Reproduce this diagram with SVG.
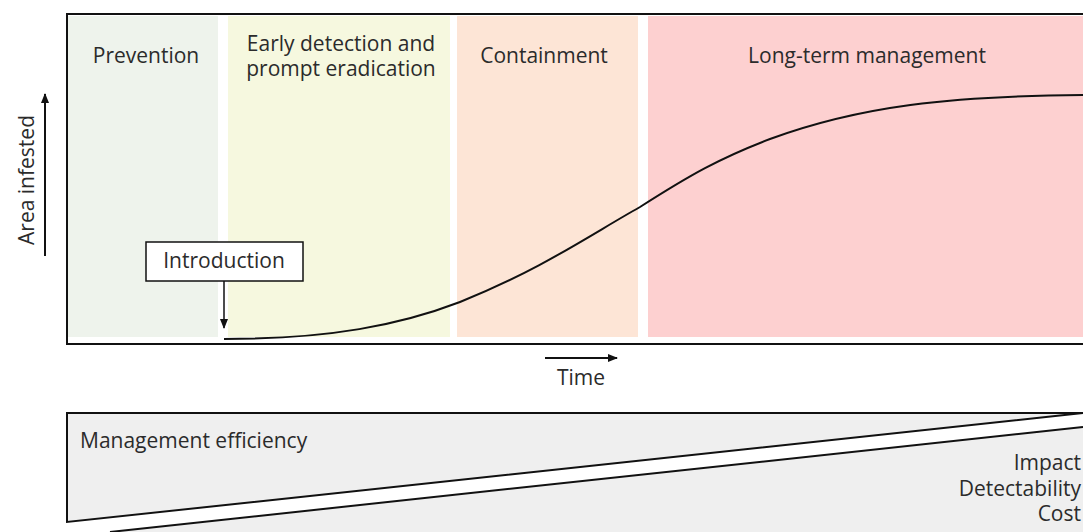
<svg xmlns="http://www.w3.org/2000/svg" width="1083" height="532" viewBox="0 0 1083 532">
<style>
text{font-family:"Open Sans","Noto Sans","Liberation Sans",sans-serif;font-size:21px;fill:#2b2b2b}
.c{text-anchor:middle}
.r{text-anchor:end}
.ln{fill:none;stroke:#111;stroke-width:2}
</style>
<defs>
<marker id="ah" markerWidth="10" markerHeight="8" refX="9" refY="4" orient="auto" markerUnits="userSpaceOnUse">
<path d="M0,0 L10,4 L0,8 Z" fill="#111"/>
</marker>
</defs>
<rect width="1083" height="532" fill="#fff"/>
<g id="panels">
<rect x="68" y="16" width="150" height="321" fill="#eef3ec"/>
<rect x="228" y="16" width="222" height="321" fill="#f6f8df"/>
<rect x="457" y="16" width="181" height="321" fill="#fde5d6"/>
<rect x="648" y="16" width="435" height="321" fill="#fdd0d0"/>
</g>
<g id="frame">
<path class="ln" d="M1083,14 H67 V344 H1083"/>
</g>
<g id="labels">
<text class="c" x="146" y="63">Prevention</text>
<text class="c" x="341" y="51">Early detection and</text>
<text class="c" x="341" y="76">prompt eradication</text>
<text class="c" x="544" y="63">Containment</text>
<text class="c" x="867" y="63">Long-term management</text>
</g>
<g id="curve">
<path class="ln" d="M224,339 C330,339 400,325 460,302 C540,270 590,235 640,207 C690,175 720,158 770,139 C860,106 950,96 1083,95"/>
</g>
<g id="introduction">
<rect x="146" y="242" width="157" height="39" fill="#fff" stroke="#111" stroke-width="1.5"/>
<text class="c" x="224" y="268">Introduction</text>
</g>
<g id="connectors">
<line x1="224" y1="281" x2="224" y2="328" stroke="#111" stroke-width="1.5" marker-end="url(#ah)"/>
<line x1="545" y1="358" x2="617" y2="358" stroke="#111" stroke-width="2" marker-end="url(#ah)"/>
<line x1="45" y1="256" x2="45" y2="94" stroke="#111" stroke-width="2" marker-end="url(#ah)"/>
</g>
<g id="axes">
<text class="c" x="581" y="385">Time</text>
<text class="c" transform="translate(34,180) rotate(-90)">Area infested</text>
</g>
<g id="efficiency">
<path d="M67,413 H1083 L67,522 Z" fill="#efefef"/>
<path d="M117,532 L1083,427 V532 Z" fill="#efefef"/>
<path class="ln" d="M1083,413 H67 V522 L1083,413"/>
<path class="ln" d="M110,532 L1083,427"/>
<text x="80" y="448">Management efficiency</text>
<text class="r" x="1081" y="470">Impact</text>
<text class="r" x="1081" y="496">Detectability</text>
<text class="r" x="1081" y="521">Cost</text>
</g>
</svg>
